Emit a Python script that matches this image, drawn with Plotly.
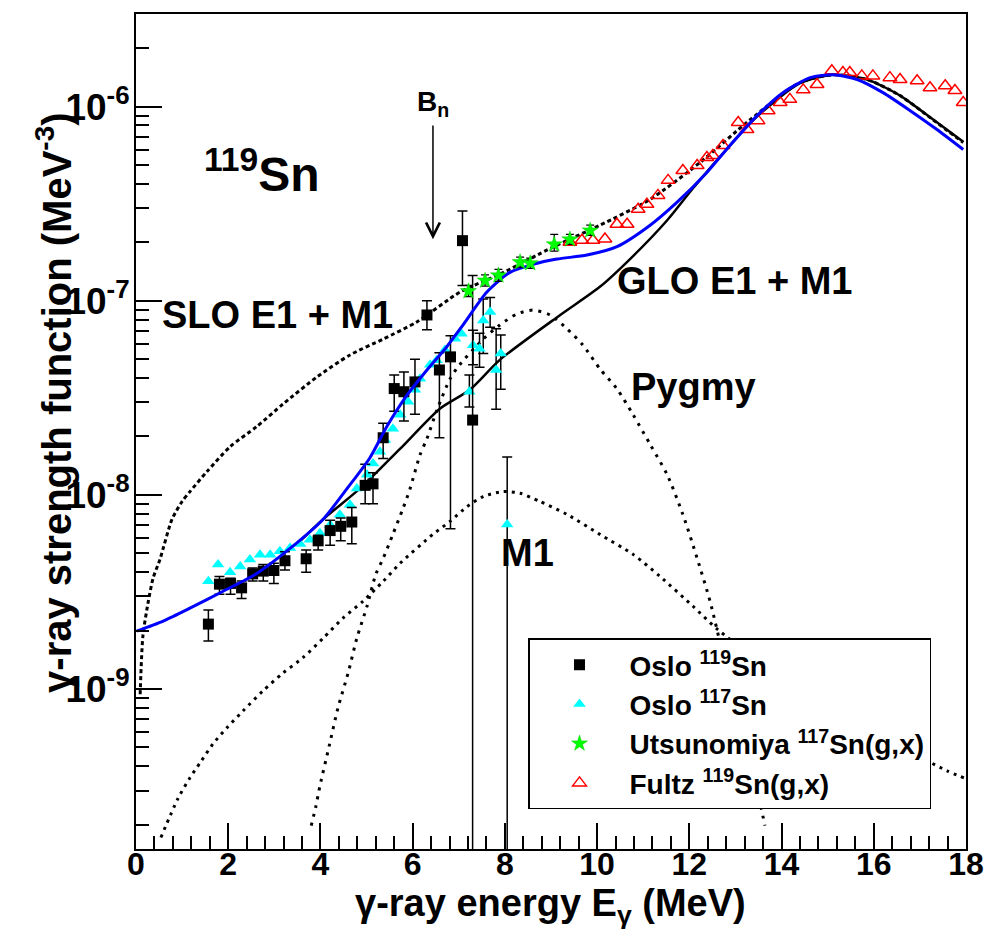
import numpy as np
import plotly.graph_objects as go

# ---------------- data ----------------
# Oslo 119Sn: energy (MeV), strength (MeV^-3), upper / lower error bounds
oslo119_E = [1.57, 1.81, 2.05, 2.29, 2.53, 2.76, 2.99, 3.23, 3.69, 3.95, 4.21, 4.44,
             4.68, 4.97, 5.14, 5.36, 5.60, 5.81, 6.05, 6.31, 6.58, 6.82, 7.08, 7.30]
oslo119_f = [2.16e-9, 3.47e-9, 3.50e-9, 3.32e-9, 3.92e-9, 4.05e-9, 4.08e-9, 4.58e-9,
             4.69e-9, 5.8e-9, 6.55e-9, 6.89e-9, 7.25e-9, 1.12e-8, 1.14e-8, 1.97e-8,
             3.53e-8, 3.4e-8, 3.82e-8, 8.45e-8, 4.4e-8, 5.14e-8, 2.04e-7, 2.43e-8]
oslo119_hi = [2.55e-9, 3.8e-9, 3.72e-9, 3.6e-9, 4.2e-9, 4.38e-9, 4.45e-9, 5.1e-9,
              5.2e-9, 6.2e-9, 7.4e-9, 7.6e-9, 8.6e-9, 1.44e-8, 1.3e-8, 2.34e-8,
              4.15e-8, 4.3e-8, 5.0e-8, 1.0e-7, 5.4e-8, 6.6e-8, 2.9e-7, 1.35e-7]
oslo119_lo = [1.77e-9, 3.08e-9, 3.08e-9, 2.93e-9, 3.6e-9, 3.6e-9, 3.5e-9, 4.1e-9,
              4.0e-9, 5.2e-9, 5.5e-9, 5.8e-9, 5.6e-9, 9.0e-9, 9.0e-9, 1.54e-8,
              2.7e-8, 2.4e-8, 2.6e-8, 7.1e-8, 1.97e-8, 6.7e-9, 1.2e-7, 1e-11]

# Oslo 117Sn
oslo117_E = [1.57, 1.78, 2.04, 2.26, 2.47, 2.69, 2.91, 3.12, 3.34, 3.56, 3.77, 3.99,
             4.21, 4.42, 4.64, 4.79, 5.01, 5.14, 5.29, 5.40, 5.57, 5.73, 5.90, 6.05,
             6.16, 6.38, 6.52, 6.70, 6.92, 7.06, 7.23, 7.31, 7.45, 7.53, 7.68, 7.81,
             7.91, 8.05]
oslo117_f = [3.59e-9, 4.38e-9, 4.0e-9, 4.28e-9, 4.65e-9, 4.92e-9, 4.92e-9, 5.12e-9,
             5.32e-9, 5.58e-9, 5.88e-9, 6.35e-9, 7.0e-9, 7.9e-9, 8.9e-9, 1.08e-8,
             1.27e-8, 1.45e-8, 1.67e-8, 1.92e-8, 2.19e-8, 2.59e-8, 3.02e-8, 3.48e-8,
             3.96e-8, 4.68e-8, 4.94e-8, 5.58e-8, 6.38e-8, 6.77e-8, 3.4e-8, 5.9e-8,
             5.66e-8, 7.92e-8, 8.75e-8, 4.4e-8, 5.35e-8, 7.05e-9]
oslo117_hi = [None] * 30 + [4.15e-8, 7.04e-8, 6.8e-8, 1.02e-7, 1.04e-7, 7.18e-8,
                            6.66e-8, 1.57e-8]
oslo117_lo = [None] * 30 + [2.84e-8, 4.68e-8, 4.55e-8, 5.35e-8, 7.3e-8, 2.76e-8,
                            3.5e-8, 1e-11]

# Utsunomiya 117Sn(g,x)
utsu_E = [7.21, 7.57, 7.86, 8.33, 8.55, 9.07, 9.41, 9.85]
utsu_f = [1.12e-7, 1.27e-7, 1.35e-7, 1.58e-7, 1.56e-7, 1.95e-7, 2.07e-7, 2.3e-7]
utsu_hi = [1.2e-7, 1.36e-7, 1.45e-7, 1.68e-7, 1.66e-7, 2.2e-7, 2.2e-7, 2.45e-7]
utsu_lo = [1.05e-7, 1.19e-7, 1.26e-7, 1.49e-7, 1.47e-7, 1.8e-7, 1.95e-7, 2.17e-7]

# Fultz 119Sn(g,x)
fultz_E = [9.41, 9.67, 9.91, 10.17, 10.43, 10.65, 10.89, 11.08, 11.32, 11.54, 11.86,
           12.17, 12.38, 12.51, 12.73, 13.06, 13.25, 13.49, 13.71, 13.97, 14.18,
           14.47, 14.77, 15.09, 15.33, 15.48, 15.74, 15.98, 16.35, 16.57, 16.94,
           17.22, 17.55, 17.76, 17.94]
fultz_f = [2.00e-7, 2.05e-7, 2.05e-7, 2.08e-7, 2.48e-7, 2.48e-7, 2.96e-7, 3.14e-7,
           3.49e-7, 4.17e-7, 4.69e-7, 4.97e-7, 5.47e-7, 5.6e-7, 6.3e-7, 8.28e-7,
           7.62e-7, 8.47e-7, 9.53e-7, 1.05e-6, 1.09e-6, 1.22e-6, 1.30e-6, 1.53e-6,
           1.50e-6, 1.50e-6, 1.44e-6, 1.44e-6, 1.41e-6, 1.38e-6, 1.36e-6, 1.25e-6,
           1.28e-6, 1.21e-6, 1.05e-6]

# SLO E1 + M1 model
slo_E = [0.09, 0.15, 0.26, 0.37, 0.52, 0.78, 1.00, 1.17, 1.54, 2.04, 2.62, 3.19,
         3.93, 4.64, 5.36, 6.09, 7.03, 7.89, 9.04, 10.06, 11.15, 12.23, 13.32,
         14.40, 15.12, 15.85, 16.57, 17.28, 17.94]
slo_f = [9.4e-10, 1.88e-9, 2.77e-9, 3.72e-9, 4.66e-9, 7.48e-9, 9.25e-9, 1.04e-8,
         1.32e-8, 1.77e-8, 2.25e-8, 2.94e-8, 4.06e-8, 5.26e-8, 6.35e-8, 7.78e-8,
         1.11e-7, 1.37e-7, 1.89e-7, 2.45e-7, 3.33e-7, 5.15e-7, 8.57e-7, 1.33e-6,
         1.46e-6, 1.38e-6, 1.14e-6, 8.57e-7, 6.53e-7]

# GLO E1 + M1 model
glo_E = [3.5, 4.06, 4.86, 5.73, 6.59, 7.24, 7.89, 9.20, 10.06, 10.78, 11.52, 12.08,
         12.88, 13.47, 14.40, 15.12, 15.85, 16.57, 17.28, 17.94]
glo_f = [5.6e-9, 7.5e-9, 1.08e-8, 1.73e-8, 2.78e-8, 3.48e-8, 4.96e-8, 8.45e-8,
         1.18e-7, 1.7e-7, 2.6e-7, 3.8e-7, 6.3e-7, 8.9e-7, 1.32e-6, 1.46e-6,
         1.38e-6, 1.14e-6, 8.6e-7, 6.6e-7]

# Total (blue) model
total_E = [0.02, 0.59, 1.17, 1.89, 2.62, 3.34, 4.06, 4.58, 5.07, 5.44, 5.85, 6.31,
           6.74, 7.09, 7.61, 8.11, 8.61, 9.13, 9.78, 10.43, 11.15, 11.73, 12.38,
           12.88, 13.47, 14.03, 14.62, 15.12, 15.64, 16.20, 16.79, 17.37, 17.94]
total_f = [1.99e-9, 2.24e-9, 2.61e-9, 3.19e-9, 3.94e-9, 5.3e-9, 7.5e-9, 1.08e-8,
           1.55e-8, 2.25e-8, 3.2e-8, 4.4e-8, 5.8e-8, 7.5e-8, 1.11e-7, 1.40e-7,
           1.54e-7, 1.64e-7, 1.72e-7, 1.9e-7, 2.45e-7, 3.21e-7, 4.58e-7, 6.31e-7,
           8.99e-7, 1.18e-6, 1.41e-6, 1.46e-6, 1.38e-6, 1.18e-6, 9.53e-7, 7.62e-7,
           6.01e-7]

# Pygmy resonance
pygmy_E = [3.80, 3.90, 3.99, 4.19, 4.38, 4.60, 4.79, 5.01, 5.20, 5.36, 5.57, 5.79,
           5.94, 6.16, 6.31, 6.53, 6.81, 6.98, 7.53, 7.89, 8.26, 8.61, 8.98, 9.35,
           9.69, 10.06, 10.43, 10.78, 11.15, 11.52, 11.86, 12.17, 12.45, 12.71,
           12.99, 13.27, 13.55, 13.64]
pygmy_f = [1.98e-10, 2.48e-10, 3.18e-10, 5.1e-10, 8.0e-10, 1.21e-9, 1.83e-9,
           2.67e-9, 3.9e-9, 4.71e-9, 6.26e-9, 8.51e-9, 1.07e-8, 1.61e-8, 1.95e-8,
           2.75e-8, 3.96e-8, 4.56e-8, 6.35e-8, 7.5e-8, 8.55e-8, 8.95e-8, 8.45e-8,
           7.16e-8, 5.92e-8, 4.46e-8, 3.52e-8, 2.59e-8, 1.82e-8, 1.27e-8, 7.93e-9,
           4.71e-9, 2.83e-9, 1.57e-9, 8.69e-10, 4.81e-10, 2.48e-10, 1.98e-10]

# M1 spin-flip
m1_E = [0.54, 0.91, 1.17, 1.39, 1.67, 1.97, 2.32, 2.75, 3.19, 3.62, 4.06, 4.49,
        4.92, 5.36, 5.73, 6.44, 6.81, 7.18, 7.53, 7.96, 8.33, 8.76, 9.35, 10.06,
        10.78, 11.36, 12.08, 12.60, 14.40, 16.13, 17.59, 18.0]
m1_f = [1.72e-10, 2.73e-10, 3.49e-10, 4.17e-10, 5.22e-10, 6.31e-10, 7.71e-10,
        9.77e-10, 1.21e-9, 1.45e-9, 1.83e-9, 2.32e-9, 2.83e-9, 3.59e-9, 4.45e-9,
        6.27e-9, 7.3e-9, 8.71e-9, 9.81e-9, 1.04e-8, 1.02e-8, 9.25e-9, 7.93e-9,
        6.26e-9, 4.94e-9, 3.81e-9, 2.67e-9, 2.04e-9, 9.8e-10, 5.75e-10,
        3.79e-10, 3.45e-10]

# axis tick labels
y_tickvals = [1e-9, 1e-8, 1e-7, 1e-6]
y_ticktext = ["10<sup>-9</sup>", "10<sup>-8</sup>", "10<sup>-7</sup>", "10<sup>-6</sup>"]

# ---------------- figure ----------------
FONT = "Liberation Sans"
fig = go.Figure()


def curve(E, f, color, width, dash):
    fig.add_trace(go.Scatter(
        x=E, y=f, mode="lines", showlegend=False, hoverinfo="skip",
        line=dict(color=color, width=width, dash=dash, shape="spline", smoothing=0.7)))


curve(slo_E, slo_f, "black", 3, "4px,3px")
curve(pygmy_E, pygmy_f, "black", 3, "3px,6px")
curve(m1_E, m1_f, "black", 3, "3px,5px")
curve(glo_E, glo_f, "black", 2.5, "solid")


def errs(f, hi, lo):
    up = [h - v for v, h in zip(f, hi)]
    dn = [v - l for v, l in zip(f, lo)]
    return up, dn


# Fultz
fig.add_trace(go.Scatter(
    x=fultz_E, y=fultz_f, mode="markers", name="Fultz <sup>119</sup>Sn(g,x)",
    marker=dict(symbol="triangle-up-open", size=12, color="#ff0000",
                line=dict(width=1.5, color="#ff0000"))))

# Oslo 117Sn
idx = [i for i, h in enumerate(oslo117_hi) if h is not None]
e_sub = [oslo117_E[i] for i in idx]
f_sub = [oslo117_f[i] for i in idx]
up117, dn117 = errs(f_sub, [oslo117_hi[i] for i in idx], [oslo117_lo[i] for i in idx])
fig.add_trace(go.Scatter(
    x=e_sub, y=f_sub, mode="markers", showlegend=False, hoverinfo="skip",
    marker=dict(size=1, color="rgba(0,0,0,0)"),
    error_y=dict(type="data", symmetric=False, array=up117, arrayminus=dn117,
                 color="black", thickness=1.5, width=5)))
fig.add_trace(go.Scatter(
    x=oslo117_E, y=oslo117_f, mode="markers", name="Oslo <sup>117</sup>Sn",
    marker=dict(symbol="triangle-up", size=11, color="#00ffff")))

# Oslo 119Sn
up119, dn119 = errs(oslo119_f, oslo119_hi, oslo119_lo)
fig.add_trace(go.Scatter(
    x=oslo119_E, y=oslo119_f, mode="markers", name="Oslo <sup>119</sup>Sn",
    marker=dict(symbol="square", size=11, color="black"),
    error_y=dict(type="data", symmetric=False, array=up119, arrayminus=dn119,
                 color="black", thickness=1.5, width=5)))

# total model (blue)
curve(total_E, total_f, "#0000ff", 3, "solid")

# Utsunomiya
upu, dnu = errs(utsu_f, utsu_hi, utsu_lo)
fig.add_trace(go.Scatter(
    x=utsu_E, y=utsu_f, mode="markers", name="Utsunomiya <sup>117</sup>Sn(g,x)",
    marker=dict(symbol="star", size=12, color="#00ff00",
                line=dict(width=0.5, color="#00cc00")),
    error_y=dict(type="data", symmetric=False, array=upu, arrayminus=dnu,
                 color="black", thickness=1.2, width=4)))

# legend order
order = ["Oslo <sup>119</sup>Sn", "Oslo <sup>117</sup>Sn",
         "Utsunomiya <sup>117</sup>Sn(g,x)", "Fultz <sup>119</sup>Sn(g,x)"]
for tr in fig.data:
    if tr.name in order:
        tr.legendrank = order.index(tr.name) + 1

L = np.log10
anno_font = dict(family=FONT, size=38, color="black")
annotations = [
    dict(x=2.73, y=-6.33, text="<b><sup>119</sup>Sn</b>", font=dict(family=FONT, size=48, color="black")),
    dict(x=3.07, y=-7.075, text="<b>SLO E1 + M1</b>", font=anno_font),
    dict(x=12.99, y=-6.90, text="<b>GLO E1 + M1</b>", font=anno_font),
    dict(x=12.08, y=-7.445, text="<b>Pygmy</b>", font=anno_font),
    dict(x=8.50, y=-8.30, text="<b>M1</b>", font=anno_font),
    dict(x=6.44, y=-5.985, text="<b>B<sub>n</sub></b>", font=dict(family=FONT, size=28, color="black")),
]
for a in annotations:
    a.update(xref="x", yref="y", showarrow=False, xanchor="center", yanchor="middle")

# B_n arrow
annotations.append(dict(x=6.44, y=-6.683, ax=6.44, ay=-6.09, xref="x", yref="y",
                        axref="x", ayref="y", text="", showarrow=True,
                        arrowhead=5, arrowsize=1.8, arrowwidth=1.5, arrowcolor="black"))
# axis titles
annotations.append(dict(x=0.499, y=-0.068, xref="paper", yref="paper",
                        text="<b>γ-ray energy E<sub>γ</sub> (MeV)</b>", showarrow=False,
                        xanchor="center", yanchor="middle",
                        font=dict(family=FONT, size=38, color="black")))
annotations.append(dict(x=-0.098, y=0.535, xref="paper", yref="paper", textangle=-90,
                        text="<b>γ-ray strength function (MeV<sup>-3</sup>)</b>",
                        showarrow=False, xanchor="center", yanchor="middle",
                        font=dict(family=FONT, size=40, color="black")))

minor_y = [k * 10.0 ** e for e in range(-11, -5) for k in range(2, 10)]
tickfont = dict(family=FONT, size=32, color="black", weight="bold")
ytickfont = dict(family=FONT, size=37, color="black", weight="bold")
fig.update_layout(
    width=1000, height=936,
    margin=dict(l=136, r=34, t=12, b=87),
    paper_bgcolor="white", plot_bgcolor="white",
    hovermode=False,
    annotations=annotations,
    xaxis=dict(range=[0, 18], tick0=0, dtick=2, ticks="inside", ticklen=26,
               tickwidth=1.5, tickcolor="black", showline=True, linecolor="black",
               linewidth=2, mirror=True, showgrid=False, zeroline=False,
               tickfont=tickfont, ticklabelstandoff=-14,
               minor=dict(ticks="inside", ticklen=13, dtick=0.4, tickwidth=1.5,
                          tickcolor="black", showgrid=False)),
    yaxis=dict(type="log", range=[L(1.5e-10), L(3e-6)], tickmode="array",
               tickvals=y_tickvals, ticktext=y_ticktext,
               ticks="inside", ticklen=26, tickwidth=1.5, tickcolor="black",
               showline=True, linecolor="black", linewidth=2, mirror=True,
               showgrid=False, zeroline=False, tickfont=ytickfont,
               ticklabelstandoff=-3,
               minor=dict(ticks="inside", ticklen=13, tickmode="array",
                          tickvals=minor_y, tickwidth=1.5,
                          tickcolor="black", showgrid=False)),
    legend=dict(x=0.4723, y=0.2521, xanchor="left", yanchor="top",
                bgcolor="white", bordercolor="black", borderwidth=1.5,
                font=dict(family=FONT, size=28, color="black", weight="bold"),
                itemwidth=90, tracegroupgap=0),
)

fig.write_html("out.html", post_script="document.body.style.margin='0';",
               config={"displayModeBar": False})
